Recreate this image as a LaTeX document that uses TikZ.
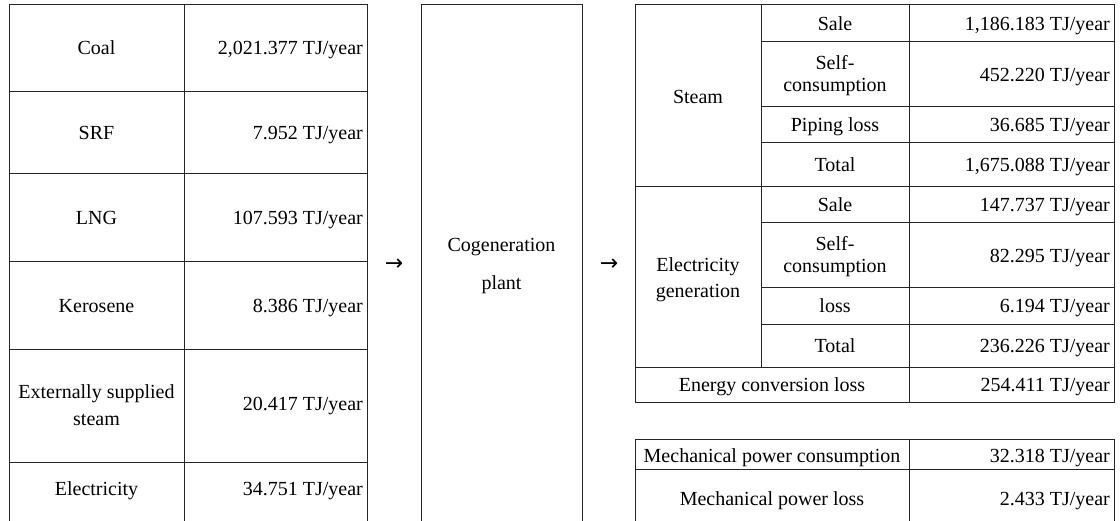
\documentclass[tikz,border=0pt]{standalone}
\usepackage{fontspec}
\setmainfont{Liberation Serif}
\newfontfamily\symfont{DejaVu Sans}
\begin{document}
\begin{tikzpicture}[x=1pt,y=-1pt,
  grid/.style={draw=black!85,line width=1pt},
  lab/.style={inner sep=0pt,font=\fontsize{20}{24}\selectfont,anchor=base},
  val/.style={inner sep=0pt,font=\fontsize{20}{24}\selectfont,anchor=base east},
  arrowsym/.style={inner sep=0pt,font=\symfont\fontsize{22}{24}\selectfont,anchor=base},
  two/.style={inner sep=0pt,align=center,anchor=center,font=\fontsize{20}{#1}\selectfont}]
\useasboundingbox (0,0) rectangle (1120,521);
% ---------- left table ----------
\draw[grid] (9,530) -- (9,5) -- (367,5) -- (367,530);
\draw[grid] (184,5) -- (184,530);
\foreach \yy in {92,174,262,350,462} \draw[grid] (9,\yy) -- (367,\yy);
\node[lab] (coal) at (96.5,55) {Coal};
\node[val] (coalv) at (363,55) {2,021.377 TJ/year};
\node[lab] (srf) at (96.5,140) {SRF};
\node[val] (srfv) at (363,140) {7.952 TJ/year};
\node[lab] (lng) at (96.5,225) {LNG};
\node[val] (lngv) at (363,225) {107.593 TJ/year};
\node[lab] (kero) at (96.5,313) {Kerosene};
\node[val] (kerov) at (363,313) {8.386 TJ/year};
\node[two=27] (ext) at (96.5,405) {Externally supplied\\steam};
\node[val] (extv) at (363,410) {20.417 TJ/year};
\node[lab] (elec) at (96.5,495) {Electricity};
\node[val] (elecv) at (363,495) {34.751 TJ/year};
% ---------- arrows ----------
\node[arrowsym] (arr1) at (394,271) {→};
\node[arrowsym] (arr2) at (609,271) {→};
% ---------- middle box ----------
\draw[grid] (421,530) -- (421,5) -- (582,5) -- (582,530);
\node[two=38] (cog) at (501.5,266) {Cogeneration\\plant};
% ---------- right table ----------
\draw[grid] (635,5) rectangle (1114,403);
\draw[grid] (761,5) -- (761,368);
\draw[grid] (909,5) -- (909,403);
\draw[grid] (635,187) -- (1114,187);
\draw[grid] (635,368) -- (1114,368);
\foreach \yy in {42,107,143,223,288,325} \draw[grid] (761,\yy) -- (1114,\yy);
\node[lab] (steam) at (698,104) {Steam};
\node[lab] (s1) at (835,31) {Sale};
\node[val] (s1v) at (1110,31) {1,186.183 TJ/year};
\node[two=22] (s2) at (835,76) {Self-\\consumption};
\node[val] (s2v) at (1110,82) {452.220 TJ/year};
\node[lab] (s3) at (835,132) {Piping loss};
\node[val] (s3v) at (1110,132) {36.685 TJ/year};
\node[lab] (s4) at (835,172) {Total};
\node[val] (s4v) at (1110,172) {1,675.088 TJ/year};
\node[two=26] (eg) at (698,280) {Electricity\\generation};
\node[lab] (e1) at (835,212) {Sale};
\node[val] (e1v) at (1110,212) {147.737 TJ/year};
\node[two=22] (e2) at (835,257) {Self-\\consumption};
\node[val] (e2v) at (1110,263) {82.295 TJ/year};
\node[lab] (e3) at (835,313) {loss};
\node[val] (e3v) at (1110,313) {6.194 TJ/year};
\node[lab] (e4) at (835,353) {Total};
\node[val] (e4v) at (1110,353) {236.226 TJ/year};
\node[lab] (ecl) at (772,392) {Energy conversion loss};
\node[val] (eclv) at (1110,392) {254.411 TJ/year};
% ---------- mechanical table ----------
\draw[grid] (635,530) -- (635,440) -- (1114,440) -- (1114,530);
\draw[grid] (909,440) -- (909,530);
\draw[grid] (635,469) -- (1114,469);
\node[lab] (mpc) at (772,463) {Mechanical power consumption};
\node[val] (mpcv) at (1110,463) {32.318 TJ/year};
\node[lab] (mpl) at (772,505) {Mechanical power loss};
\node[val] (mplv) at (1110,505) {2.433 TJ/year};
\end{tikzpicture}
\end{document}
